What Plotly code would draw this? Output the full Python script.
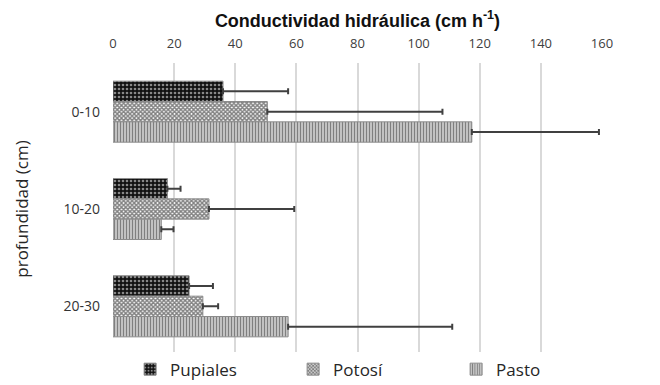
import plotly.graph_objects as go

categories = ["0-10", "10-20", "20-30"]
series_names = ["Pupiales", "Potosí", "Pasto"]
pupiales = [36.0, 17.8, 24.9]
pupiales_err = [21.3, 4.3, 7.8]
potosi = [50.5, 31.4, 29.4]
potosi_err = [57.3, 27.9, 5.0]
pasto = [117.4, 15.8, 57.3]
pasto_err = [41.6, 4.0, 53.7]

values = [pupiales, potosi, pasto]
errors = [pupiales_err, potosi_err, pasto_err]
patterns = [
    dict(shape=".", fgcolor="white", bgcolor="#111111", size=4, solidity=0.35),
    dict(shape="x", fgcolor="#000000", bgcolor="white", size=3, solidity=0.7),
    dict(shape="|", fgcolor="#000000", bgcolor="white", size=3, solidity=0.65),
]

fig = go.Figure()
for name, v, e, p in zip(series_names, values, errors, patterns):
    fig.add_trace(go.Bar(
        y=categories, x=v, name=name, orientation="h",
        marker=dict(color="white", pattern=p, line=dict(color="#8c8c8c", width=1)),
        error_x=dict(type="data", array=e, arrayminus=[0] * len(e), symmetric=False,
                     color="#404040", thickness=2, width=3),
    ))

fig.update_layout(
    width=660, height=385,
    paper_bgcolor="white", plot_bgcolor="white",
    margin=dict(l=105, r=66, t=55, b=38, autoexpand=False),
    barmode="group", bargap=0.373, bargroupgap=0,
    font=dict(family="Open Sans", color="#333333"),
    showlegend=True,
    legend=dict(orientation="h", x=0.035, y=-0.05, xanchor="left", yanchor="middle",
                entrywidth=118, font=dict(size=17, color="#262626"),
                traceorder="normal", itemwidth=30),
    xaxis=dict(side="top", range=[0, 160], dtick=20, showgrid=True, gridcolor="#d9d9d9",
               gridwidth=1.5, zeroline=False, showline=False, ticks="",
               ticklabelstandoff=11,
               tickfont=dict(size=13, color="#404040"),
               title=dict(text="<b>Conductividad hidráulica (cm h<sup>-1</sup>)</b>",
                          font=dict(family="Liberation Sans", size=18, color="#111111"),
                          standoff=4)),
    yaxis=dict(autorange="reversed", showgrid=False, ticks="", showline=False,
               tickfont=dict(size=14, color="#333333"), ticklabelstandoff=12,
               title=dict(text="profundidad (cm)", font=dict(size=17, color="#262626"),
                          standoff=30)),
)

fig.write_html("out.html")
